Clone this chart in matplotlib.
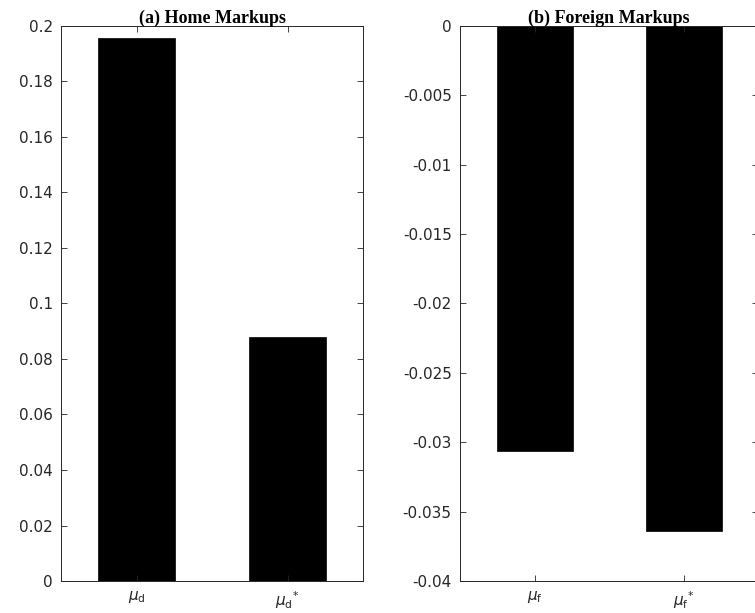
import matplotlib.pyplot as plt

# values
home_labels = [r"$\mu_\mathrm{d}$", r"$\mu_\mathrm{d}{}^{*}$"]
home_values = [0.1957, 0.0878]
home_ticks = [0, 0.02, 0.04, 0.06, 0.08, 0.1, 0.12, 0.14, 0.16, 0.18, 0.2]

foreign_labels = [r"$\mu_\mathrm{f}$", r"$\mu_\mathrm{f}{}^{*}$"]
foreign_values = [-0.0306, -0.0364]
foreign_ticks = [-0.04, -0.035, -0.03, -0.025, -0.02, -0.015, -0.01, -0.005, 0]

plt.rcParams["mathtext.fontset"] = "dejavusans"

fig = plt.figure(figsize=(7.55, 6.13), dpi=100)


def style_axis(ax, title):
    for side in ax.spines.values():
        side.set_linewidth(0.7)
        side.set_color("#262626")
    ax.tick_params(direction="in", length=4.5, width=0.6, color="#262626",
                   top=True, right=True, labelcolor="#262626")
    ax.tick_params(axis="y", pad=6, labelsize=11)
    ax.tick_params(axis="x", pad=6, labelsize=11)
    ax.set_title(title, fontfamily="Liberation Serif", fontweight="bold",
                 fontsize=13, pad=2)


ax1 = fig.add_axes([0.0808, 0.0522, 0.4, 0.9054])
ax1.bar([1, 2], home_values, width=0.51, color="black", edgecolor="black",
        linewidth=0.5)
ax1.set_xlim(0.5, 2.5)
ax1.set_ylim(0, 0.2)
ax1.set_xticks([1, 2])
ax1.set_xticklabels(home_labels)
ax1.set_yticks(home_ticks)
ax1.set_yticklabels([f"{t:g}" for t in home_ticks])
style_axis(ax1, "(a) Home Markups")

ax2 = fig.add_axes([0.6093, 0.0522, 0.3947, 0.9054])
ax2.bar([1, 2], foreign_values, width=0.51, color="black", edgecolor="black",
        linewidth=0.5)
ax2.set_xlim(0.5, 2.5)
ax2.set_ylim(-0.04, 0)
ax2.set_xticks([1, 2])
ax2.set_xticklabels(foreign_labels)
ax2.set_yticks(foreign_ticks)
ax2.set_yticklabels([f"{t:g}" for t in foreign_ticks])
style_axis(ax2, "(b) Foreign Markups")

fig.savefig("out.png", dpi=100)
plt.close(fig)
